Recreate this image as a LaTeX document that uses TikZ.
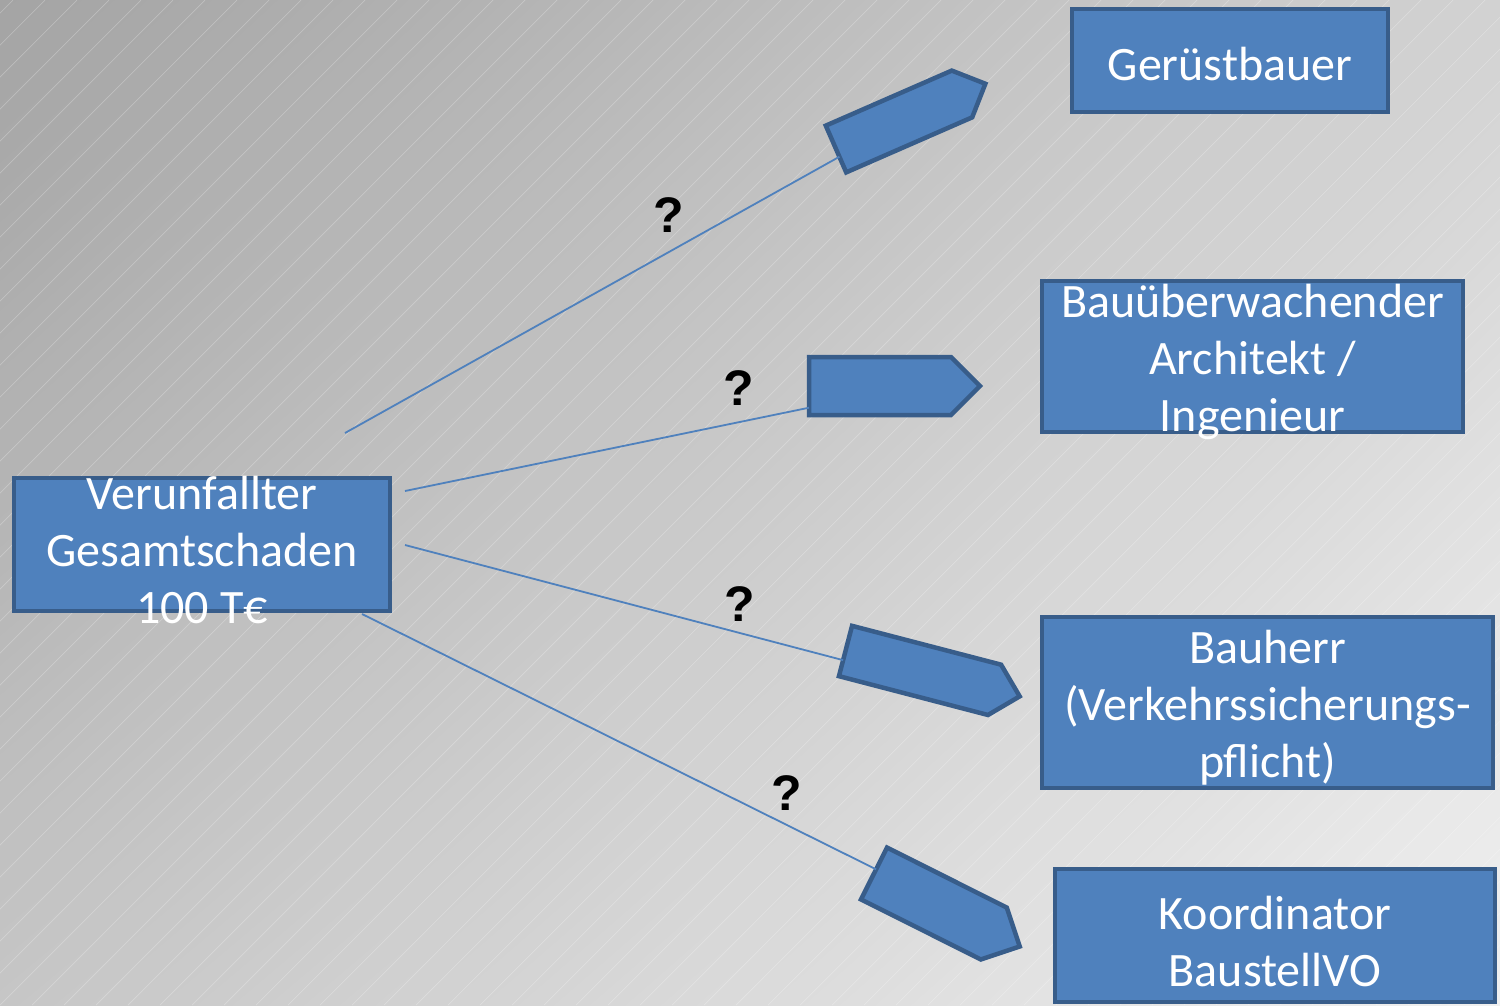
\documentclass[tikz,border=0pt]{standalone}
\usepackage{fontspec}
\setmainfont{Carlito}
\newfontfamily\qmfont{Liberation Sans}
\usepackage{tikz}
\usetikzlibrary{shapes.symbols,shadings}

\definecolor{boxfill}{HTML}{4F81BD}
\definecolor{boxline}{HTML}{385D8A}
\definecolor{bgul}{HTML}{A4A4A4}
\definecolor{bgur}{HTML}{D2D2D2}
\definecolor{bgll}{HTML}{C6C6C6}
\definecolor{bglr}{HTML}{F0F0F0}

\begin{document}
\begin{tikzpicture}[
    x=1pt, y=-1pt,
    box/.style={rectangle, draw=boxline, line width=4pt, fill=boxfill, inner sep=0pt, outer sep=0pt},
    boxtext/.style={text=white, align=center, inner sep=0pt, font=\fontsize{48}{57}\selectfont},
    tag/.style={signal, signal to=east, signal pointer angle=90, draw=boxline, line width=4.5pt, fill=boxfill, inner sep=0pt, outer sep=0pt, anchor=west},
    link/.style={draw=boxfill, line width=1.8pt},
    qmark/.style={font=\qmfont\bfseries\fontsize{50}{50}\selectfont, inner sep=0pt},
    hatch/.style={white, opacity=0.25, line width=0.7pt}
]
    \useasboundingbox (0,0) rectangle (1500,1005);
    \shade[upper left=bgul, upper right=bgur, lower left=bgll, lower right=bglr] (0,0) rectangle (1500,1005);
    \begin{scope}
        \clip (0,0) rectangle (1500,1005);
        \foreach \c in {13,45,...,2520}
            \draw[hatch] (\c,0) -- (\c-1005,1005);
    \end{scope}

    \node[box, minimum width=376pt, minimum height=133pt] (unfall) at (202,544.5) {};
    \node[boxtext] (unfall-t) at ([yshift=-5pt]unfall.center) {Verunfallter\\Gesamtschaden\\100 T€};

    \node[box, minimum width=316pt, minimum height=103pt] (geruest) at (1230,60.5) {};
    \node[boxtext] (geruest-t) at ([yshift=-4pt]geruest.center) {Gerüstbauer};
    \node[box, minimum width=421pt, minimum height=151pt] (arch) at (1252.5,356.5) {};
    \node[boxtext] (arch-t) at ([yshift=-5pt]arch.center) {Bauüberwachender\\Architekt /\\Ingenieur};
    \node[box, minimum width=451pt, minimum height=171pt] (bauherr) at (1267.5,702.5) {};
    \node[boxtext] (bauherr-t) at ([yshift=-5pt]bauherr.center) {Bauherr\\(Verkehrssicherungs-\\pflicht)};
    \node[box, minimum width=440pt, minimum height=133pt] (koord) at (1275,935.5) {};
    \node[boxtext] (koord-t) at ([yshift=-6pt]koord.center) {Koordinator\\BaustellVO};

    \node[tag, rotate=23.6, minimum width=163pt, minimum height=51pt] (tag1) at (836,149) {};
    \node[tag, minimum width=171pt, minimum height=58pt] (tag2) at (809,386) {};
    \node[tag, rotate=-14.6, minimum width=180pt, minimum height=52pt] (tag3) at (845.5,651) {};
    \node[tag, rotate=-26.6, minimum width=163pt, minimum height=58pt] (tag4) at (874,873.5) {};

    \coordinate (from1) at (345,433);
    \coordinate (from2) at (405,491);
    \coordinate (from3) at (405,545);
    \coordinate (from4) at (362,614);

    \draw[link] (from1) -- (tag1.187);
    \draw[link] (from2) -- (tag2.197);
    \draw[link] (from3) -- (tag3.187);
    \draw[link] (from4) -- (tag4.176);

    \node[qmark] (q1) at (669,215) {?};
    \node[qmark] (q2) at (739,388) {?};
    \node[qmark] (q3) at (740,604) {?};
    \node[qmark] (q4) at (787,793) {?};
\end{tikzpicture}
\end{document}
